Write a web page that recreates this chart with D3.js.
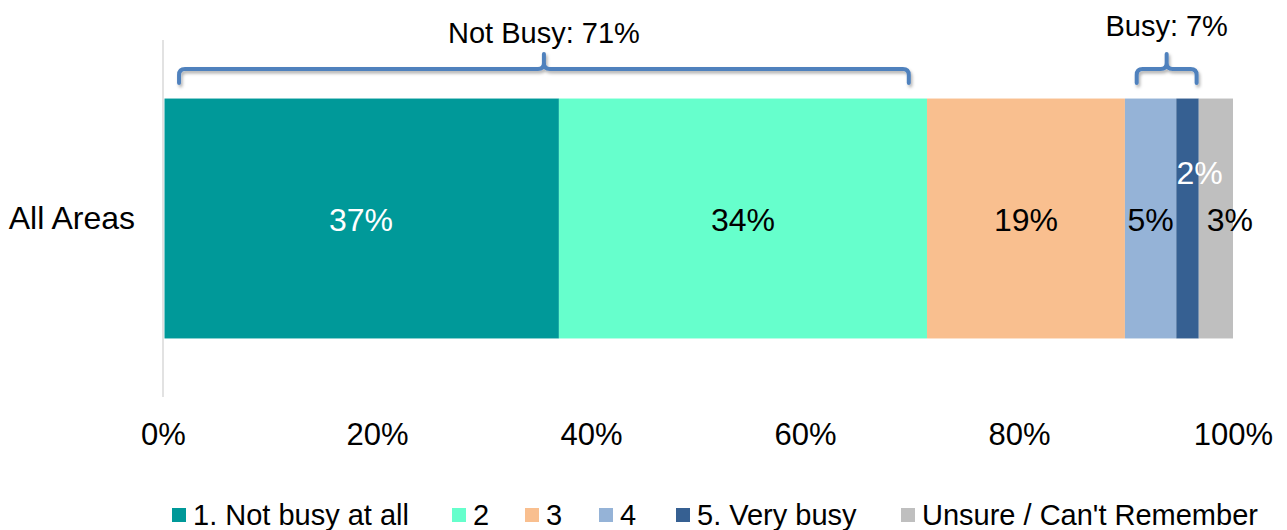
<!DOCTYPE html>
<html>
<head>
<meta charset="utf-8">
<script src="https://cdn.jsdelivr.net/npm/d3@7"></script>
<style>
  html, body { margin: 0; padding: 0; background: #fff; }
  svg { display: block; font-family: "Liberation Sans", Arial, sans-serif; }
</style>
</head>
<body>
<svg id="chart" width="1287" height="530"></svg>
<script>
const categories = ["All Areas"];
const seriesNames = ["1. Not busy at all", "2", "3", "4", "5. Very busy", "Unsure / Can't Remember"];
const seriesValues = [37.0, 34.4, 18.5, 4.8, 2.1, 3.2];
const valueLabels = ["37%", "34%", "19%", "5%", "2%", "3%"];
const seriesColors = ["#009999", "#66FFCC", "#F9BF8F", "#95B3D7", "#366092", "#BFBFBF"];
const labelColors = ["#ffffff", "#000000", "#000000", "#000000", "#ffffff", "#000000"];
const tickValues = [0, 20, 40, 60, 80, 100];
const groupLabels = ["Not Busy: 71%", "Busy: 7%"];
const groupRanges = [[1.5, 69.7], [91.0, 96.6]];

const svg = d3.select("#chart");
const x = d3.scaleLinear().domain([0, 100]).range([163, 1233]);
const y = d3.scaleBand().domain(categories).range([40, 397]).paddingInner(0).paddingOuter(0.244);

// stacked data
const stackRow = {};
seriesNames.forEach((s, i) => stackRow[s] = seriesValues[i]);
const stacked = d3.stack().keys(seriesNames)([stackRow]);

// vertical axis line
svg.append("line")
  .attr("x1", x(0)).attr("x2", x(0))
  .attr("y1", y.range()[0]).attr("y2", y.range()[1])
  .attr("stroke", "#d9d9d9").attr("stroke-width", 1.5);

// bars
const cat = categories[0];
svg.append("g").selectAll("rect").data(stacked).join("rect")
  .attr("x", d => x(d[0][0]) + (d.index === 0 ? 1.5 : 0))
  .attr("width", d => x(d[0][1]) - x(d[0][0]) - (d.index === 0 ? 1.5 : 0))
  .attr("y", y(cat))
  .attr("height", y.bandwidth())
  .attr("fill", (d, i) => seriesColors[i]);

// value labels
const labelShift = [[0, 0], [0, 0], [0, 0], [0, 0], [12, -47], [14, 0]];
svg.append("g").selectAll("text").data(stacked).join("text")
  .attr("x", (d, i) => (x(d[0][0]) + x(d[0][1])) / 2 + labelShift[i][0])
  .attr("y", (d, i) => y(cat) + y.bandwidth() / 2 + 12 + labelShift[i][1])
  .attr("text-anchor", "middle")
  .attr("font-size", 32)
  .attr("fill", (d, i) => labelColors[i])
  .text((d, i) => valueLabels[i]);

// category label
svg.append("text")
  .attr("x", 135).attr("y", y(cat) + y.bandwidth() / 2 + 10)
  .attr("text-anchor", "end").attr("font-size", 32).attr("fill", "#000")
  .text(cat);

// x axis tick labels
const xAxis = d3.axisBottom(x).tickValues(tickValues).tickSize(0).tickFormat(d => d + "%");
const gx = svg.append("g").attr("transform", "translate(0,420)").call(xAxis);
gx.select(".domain").remove();
gx.selectAll("text").attr("font-size", 31).attr("fill", "#000")
  .attr("font-family", "Liberation Sans, Arial, sans-serif");

// bracket shadow filter
const defs = svg.append("defs");
const f = defs.append("filter").attr("id", "shadow").attr("x", "-10%").attr("y", "-50%").attr("width", "120%").attr("height", "200%");
f.append("feDropShadow").attr("dx", 1.5).attr("dy", 2.5).attr("stdDeviation", 1.5).attr("flood-color", "#000").attr("flood-opacity", 0.3);

// brackets
function bracketPath(x0, x1, yBar, yTip, yTop) {
  const xc = (x0 + x1) / 2, r = 6;
  return `M${x0},${yTip} L${x0},${yBar + r} Q${x0},${yBar} ${x0 + r},${yBar} L${xc - r},${yBar} Q${xc},${yBar} ${xc},${yBar - r} L${xc},${yTop}` +
         ` M${xc},${yBar - r} Q${xc},${yBar} ${xc + r},${yBar} L${x1 - r},${yBar} Q${x1},${yBar} ${x1},${yBar + r} L${x1},${yTip}`;
}
groupRanges.forEach((r, i) => {
  const x0 = x(r[0]), x1 = x(r[1]);
  svg.append("path")
    .attr("d", bracketPath(x0, x1, 69, 83, 54))
    .attr("fill", "none").attr("stroke", "#4F81BD").attr("stroke-width", 4)
    .attr("stroke-linecap", "round").attr("stroke-linejoin", "round")
    .attr("filter", "url(#shadow)");
  svg.append("text")
    .attr("x", (x0 + x1) / 2).attr("y", i === 0 ? 43 : 36)
    .attr("text-anchor", "middle").attr("font-size", 29).attr("fill", "#000")
    .text(groupLabels[i]);
});

// legend
const legendX = [172, 452, 525, 599, 676, 901];
const lg = svg.append("g").selectAll("g").data(seriesNames).join("g")
  .attr("transform", (d, i) => `translate(${legendX[i]},508)`);
lg.append("rect").attr("width", 14).attr("height", 14).attr("fill", (d, i) => seriesColors[i]);
lg.append("text").attr("x", 21).attr("y", 17).attr("font-size", 29).attr("fill", "#000").text(d => d);
</script>
</body>
</html>
